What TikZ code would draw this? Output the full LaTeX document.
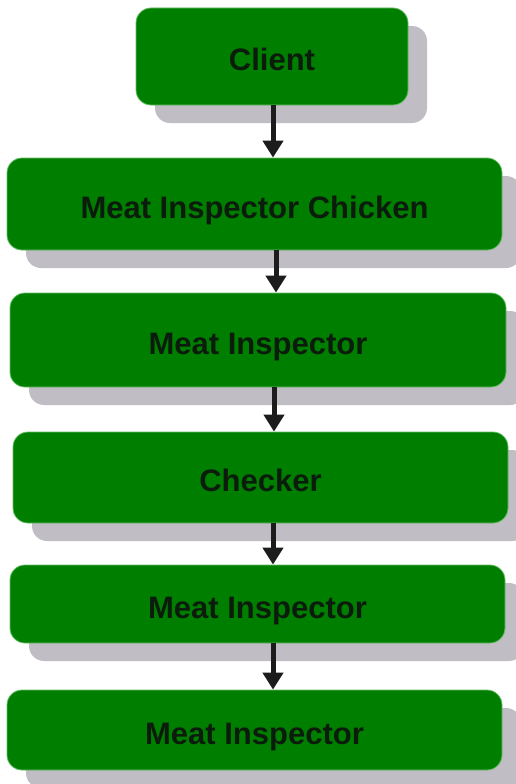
\documentclass[tikz,border=0pt]{standalone}
\usepackage{fontspec}
\setmainfont{Liberation Sans}
\usetikzlibrary{shadows,arrows.meta}
\definecolor{boxgreen}{RGB}{0,126,0}
\definecolor{shadowgray}{RGB}{192,190,196}
\definecolor{txt}{RGB}{12,28,12}
\definecolor{arrowc}{RGB}{28,28,28}
\tikzset{
  stepbox/.style={draw=boxgreen!85!green!60!white, line width=0.8pt, fill=boxgreen, rounded corners=15pt,
    inner sep=0pt, anchor=center, text=txt, text height=28pt, text depth=0pt,
    font=\fontsize{31}{36}\selectfont\bfseries,
    drop shadow={shadow xshift=19pt, shadow yshift=-18pt, fill=shadowgray, opacity=1}},
  arr/.style={draw=arrowc, line width=5pt, -{Triangle[length=17pt,width=20pt]}, shorten >=0pt}
}
\newcommand{\mkbox}[6]{% name, x1,y1,x2,y2, text
  \node[stepbox, minimum width={(#4-#2)*1pt}, minimum height={(#5-#3)*1pt}]
    (#1) at ({(#2+#4)/2*1pt},{-(#3+#5)/2*1pt}) {#6};}
\begin{document}
\begin{tikzpicture}[x=1pt,y=1pt]
\fill[white] (0,0) rectangle (516,-784);
\useasboundingbox (0,0) rectangle (516,-784);
\begin{scope}
\clip (0,0) rectangle (516,-784);
\mkbox{b1}{136}{8}{408}{105}{Client}
\mkbox{b2}{7}{158}{502}{250}{Meat Inspector Chicken}
\mkbox{b3}{10}{293}{506}{387}{Meat Inspector}
\mkbox{b4}{13}{432}{508}{523}{Checker}
\mkbox{b5}{10}{565}{505}{643}{Meat Inspector}
\mkbox{b6}{7}{690}{502}{770}{Meat Inspector}
\coordinate (a1) at (273,0);
\coordinate (a2) at (276,0);
\coordinate (a3) at (274,0);
\coordinate (a4) at (273,0);
\coordinate (a5) at (273,0);
\draw[arr] (b1.south -| a1) -- (b2.north -| a1);
\draw[arr] (b2.south -| a2) -- (b3.north -| a2);
\draw[arr] (b3.south -| a3) -- (b4.north -| a3);
\draw[arr] (b4.south -| a4) -- (b5.north -| a4);
\draw[arr] (b5.south -| a5) -- (b6.north -| a5);
\end{scope}
\end{tikzpicture}
\end{document}
